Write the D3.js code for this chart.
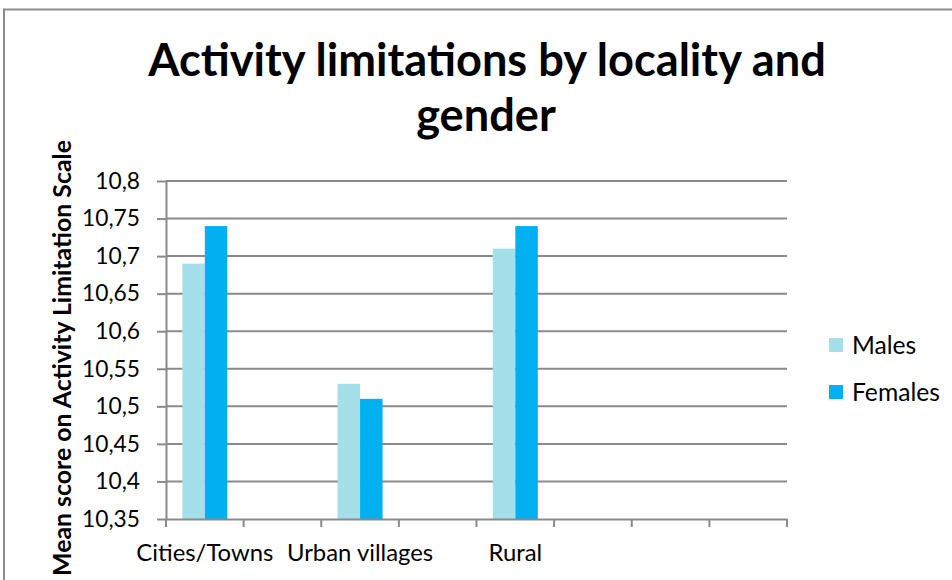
<!DOCTYPE html>
<html lang="en">
<head>
  <meta charset="utf-8">
  <title>Activity limitations by locality and gender</title>
  <script src="https://d3js.org/d3.v7.min.js"></script>
  <style>
    body { margin: 0; background: #fff; }
    svg text { font-family: Lato, "Open Sans", sans-serif; fill: #000; }
    .grid line, .axis line, .axis path { stroke: #8a8a8a; stroke-width: 2; }
  </style>
</head>
<body>
  <div id="chart"></div>

  <script>
    "use strict"

    // data
    var categories = ["Cities/Towns", "", "Urban villages", "", "Rural", "", "", ""];
    var series = ["Males", "Females"];
    var males = [10.69, 10.53, 10.71];
    var females = [10.74, 10.51, 10.74];
    var yTicks = [10.35, 10.4, 10.45, 10.5, 10.55, 10.6, 10.65, 10.7, 10.75, 10.8];
    var colors = ["#a5dfe9", "#00b0f0"];

    var width = 952, height = 580;
    var margin = { top: 181, right: 165, bottom: 61, left: 166 };
    var widthViz = width - margin.left - margin.right;
    var heightViz = height - margin.top - margin.bottom;

    var svg = d3.select("#chart").append("svg")
      .attr("width", width)
      .attr("height", height);

    // helper: scale font so the text spans a given width
    function fitText(sel, target) {
      var w = sel.node().getComputedTextLength();
      var fs = parseFloat(sel.style("font-size"));
      var nfs = fs * target / w;
      sel.style("font-size", nfs + "px");
      return nfs;
    }

    // outer frame (only top and left visible)
    svg.append("path")
      .attr("d", "M4,580V9.5H952")
      .attr("fill", "none")
      .attr("stroke", "#8c8c8c")
      .attr("stroke-width", 2);

    var chart = svg.append("g")
      .attr("transform", "translate(" + margin.left + "," + margin.top + ")");

    var keys = categories.map((c, i) => i);
    var x = d3.scaleBand()
      .domain(keys)
      .range([0, widthViz])
      .padding(0);

    var x1 = d3.scaleBand()
      .domain(series)
      .range([0, x.bandwidth()])
      .paddingInner(0)
      .paddingOuter(0.725);

    var y = d3.scaleLinear()
      .domain([d3.min(yTicks), d3.max(yTicks)])
      .range([heightViz, 0]);

    var fmt = v => String(v).replace(".", ",");

    // gridlines
    chart.append("g").attr("class", "grid")
      .selectAll("line")
      .data(yTicks.slice(1))
      .enter().append("line")
        .attr("x1", 0)
        .attr("x2", widthViz)
        .attr("y1", d => y(d))
        .attr("y2", d => y(d));

    // bars
    var rows = [males, females];
    var bars = [];
    series.forEach((s, si) => {
      rows[si].forEach((v, i) => bars.push({ cat: i * 2, s: s, si: si, v: v }));
    });
    chart.selectAll("rect.bar")
      .data(bars)
      .enter().append("rect")
        .attr("class", "bar")
        .attr("x", d => x(d.cat) + x1(d.s))
        .attr("width", x1.bandwidth())
        .attr("y", d => y(d.v))
        .attr("height", d => heightViz - y(d.v))
        .attr("fill", d => colors[d.si]);

    // axes
    var yAxis = chart.append("g").attr("class", "axis")
      .call(d3.axisLeft(y).tickValues(yTicks).tickFormat(fmt).tickSize(9).tickSizeOuter(0));
    yAxis.selectAll("text")
      .attr("x", -26)
      .style("font-size", "21px");
    // match width of "10,75" to the picture
    var sample = yAxis.selectAll("text").filter(d => d === 10.75);
    var tfs = fitText(sample, 58);
    yAxis.selectAll("text").style("font-size", tfs + "px");

    var xAxis = chart.append("g").attr("class", "axis")
      .attr("transform", "translate(0," + heightViz + ")")
      .call(d3.axisBottom(x).tickFormat(() => "").tickSize(0).tickSizeOuter(0));
    xAxis.selectAll(".tick").remove();
    var xTickPos = keys.map(k => x(k)).concat([widthViz]);
    xAxis.selectAll("line.sep")
      .data(xTickPos)
      .enter().append("line")
        .attr("class", "sep")
        .attr("x1", d => d).attr("x2", d => d)
        .attr("y1", 0).attr("y2", 8);

    var xl = xAxis.selectAll("text.xlab")
      .data(keys)
      .enter().append("text")
        .attr("class", "xlab")
        .attr("x", d => x(d) + x.bandwidth() / 2)
        .attr("y", 42)
        .attr("text-anchor", "middle")
        .style("font-size", "21px")
        .text(d => categories[d]);
    var xfs = fitText(xl.filter(d => d === 0), 137);
    xl.style("font-size", xfs + "px");

    // title
    var t1 = svg.append("text")
      .attr("x", 487).attr("y", 76)
      .attr("text-anchor", "middle")
      .style("font-weight", "bold").style("font-size", "44px")
      .text("Activity limitations by locality and");
    fitText(t1, 678);
    svg.append("text")
      .attr("x", 486).attr("y", 131)
      .attr("text-anchor", "middle")
      .style("font-weight", "bold").style("font-size", t1.style("font-size"))
      .text("gender");

    // y axis title
    var yt = svg.append("text")
      .attr("transform", "translate(71,358) rotate(-90)")
      .attr("text-anchor", "middle")
      .style("font-weight", "bold").style("font-size", "21px")
      .text("Mean score on Activity Limitation Scale");
    fitText(yt, 436);

    // legend
    var legend = svg.append("g").attr("transform", "translate(829,338)");
    var li = legend.selectAll("g")
      .data(series)
      .enter().append("g")
        .attr("transform", (d, i) => "translate(0," + i * 47 + ")");
    li.append("rect")
      .attr("width", 14).attr("height", 14)
      .attr("fill", (d, i) => colors[i]);
    var lt = li.append("text")
      .attr("x", 23).attr("y", 7).attr("dy", "0.35em")
      .style("font-size", "21px")
      .text(d => d);
    var lfs = fitText(lt.filter(d => d === "Females"), 88);
    lt.style("font-size", lfs + "px");
  </script>
</body>
</html>
